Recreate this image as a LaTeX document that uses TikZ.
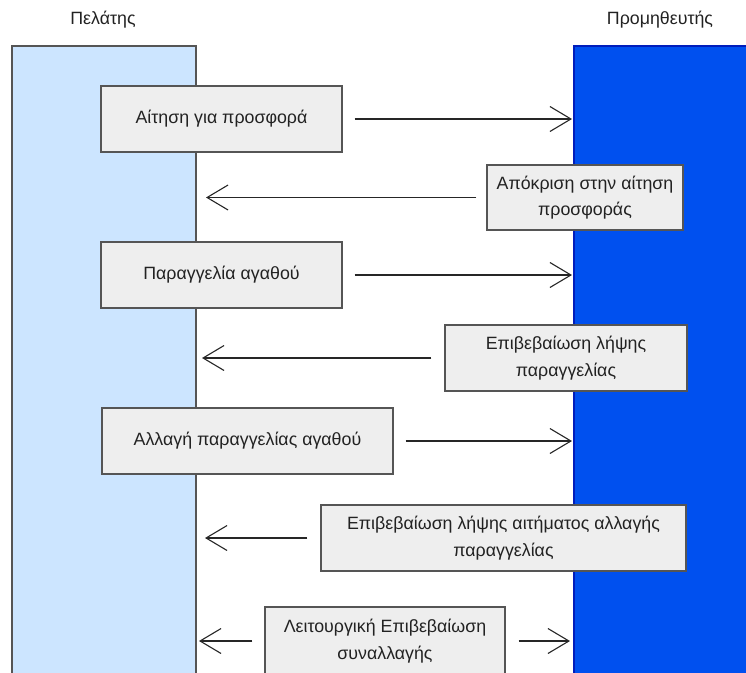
\documentclass[tikz,border=0pt]{standalone}
\usepackage{fontspec}
\setmainfont{Liberation Sans}
\usetikzlibrary{arrows.meta}
\definecolor{clientfill}{HTML}{CCE5FF}
\definecolor{supfill}{HTML}{0050EF}
\definecolor{supline}{HTML}{001DBC}
\definecolor{boxfill}{HTML}{EEEEEE}
\definecolor{boxline}{HTML}{555555}
\definecolor{txt}{HTML}{222222}
\tikzset{
  msgbox/.style={draw=boxline, fill=boxfill, line width=1.2pt, text=txt, align=center, font=\fontsize{17.8}{26.5}\selectfont, inner sep=0pt, minimum height=66pt},
  lbl/.style={text=txt, font=\fontsize{17.8}{22}\selectfont},
  msg/.style={draw=black!85, line width=1.1pt, -{Straight Barb[length=21pt, width=25pt, line width=1.1pt]}},
}
\begin{document}
\begin{tikzpicture}[x=1pt, y=-1pt]
\useasboundingbox (0,0) rectangle (746,672);
\clip (0,0) rectangle (746,672);
% lanes
\path[draw=boxline, fill=clientfill, line width=1.2pt] (12,46) rectangle (196,690);
\path[draw=supline, fill=supfill, line width=1.2pt] (574,46) rectangle (760,690);
\coordinate (L) at (196,46);
\coordinate (R) at (574,46);
\node[lbl] (client) at (103,20) {Πελάτης};
\node[lbl] (supplier) at (660,20) {Προμηθευτής};
% boxes
\node[msgbox, minimum width=241pt] (b1) at (221.5,119) {Αίτηση για προσφορά};
\node[msgbox, minimum width=196pt, minimum height=65pt] (b2) at (585,197.5) {Απόκριση στην αίτηση\\προσφοράς};
\node[msgbox, minimum width=241pt] (b3) at (221.5,275) {Παραγγελία αγαθού};
\node[msgbox, minimum width=242pt] (b4) at (566,358) {Επιβεβαίωση λήψης\\παραγγελίας};
\node[msgbox, minimum width=291pt] (b5) at (247.5,441) {Αλλαγή παραγγελίας αγαθού};
\node[msgbox, minimum width=365pt] (b6) at (503.5,538) {Επιβεβαίωση λήψης αιτήματος αλλαγής\\παραγγελίας};
\node[msgbox, minimum width=240pt, minimum height=68pt] (b7) at (385,641) {Λειτουργική Επιβεβαίωση\\συναλλαγής};
% arrows
\draw[msg] ([xshift=12pt]b1.east) -- ([xshift=-2pt]b1.east -| R);
\draw[msg] ([xshift=-10pt]b2.west) -- ([xshift=10pt]b2.west -| L);
\draw[msg] ([xshift=12pt]b3.east) -- ([xshift=-2pt]b3.east -| R);
\draw[msg] ([xshift=-13pt]b4.west) -- ([xshift=6pt]b4.west -| L);
\draw[msg] ([xshift=12pt]b5.east) -- ([xshift=-2pt]b5.east -| R);
\draw[msg] ([xshift=-13pt]b6.west) -- ([xshift=9pt]b6.west -| L);
\draw[msg] ([xshift=-12pt]b7.west) -- ([xshift=3pt]b7.west -| L);
\draw[msg] ([xshift=13pt]b7.east) -- ([xshift=-4pt]b7.east -| R);
\end{tikzpicture}
\end{document}
